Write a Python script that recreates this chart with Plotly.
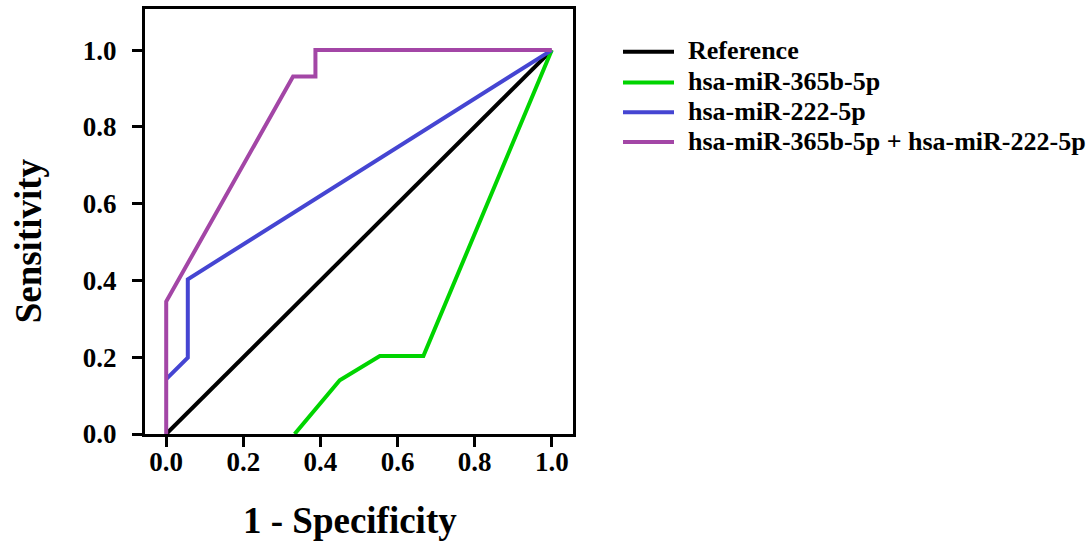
import plotly.graph_objects as go

ref_x = [0, 1]
ref_y = [0, 1]
g_x = [0.333, 0.450, 0.554, 0.667, 1.0]
g_y = [0.0, 0.140, 0.203, 0.203, 1.0]
b_x = [0.0, 0.056, 0.056, 1.0]
b_y = [0.143, 0.199, 0.403, 1.0]
p_x = [0.0, 0.0, 0.329, 0.387, 0.387, 1.0]
p_y = [0.0, 0.345, 0.931, 0.931, 1.0, 1.0]

names = ["Reference", "hsa-miR-365b-5p", "hsa-miR-222-5p", "hsa-miR-365b-5p + hsa-miR-222-5p"]
colors = ["#000000", "#00D400", "#4545D2", "#A346A6"]
tick_vals = [0, 0.2, 0.4, 0.6, 0.8, 1.0]
tick_text = ["0.0", "0.2", "0.4", "0.6", "0.8", "1.0"]

font = "Liberation Serif"
W, H = 1092, 547
L, R, T, B = 145, 519, 6, 113
pw, ph = W - L - R, H - T - B

def px_x(px):
    return (px - L) / pw

def px_y(py):
    return (H - B - py) / ph

fig = go.Figure()
for xs, ys, n, c in zip([ref_x, g_x, b_x, p_x], [ref_y, g_y, b_y, p_y], names, colors):
    fig.add_trace(go.Scatter(x=xs, y=ys, mode="lines", name=n, showlegend=False,
                             line=dict(color=c, width=4)))

# manual legend
shapes = []
annotations = []
row_y = [49, 80, 110, 140]
for n, c, ry in zip(names, colors, row_y):
    shapes.append(dict(type="line", xref="paper", yref="paper",
                       x0=px_x(623), x1=px_x(674), y0=px_y(ry), y1=px_y(ry),
                       line=dict(color=c, width=4)))
    annotations.append(dict(xref="paper", yref="paper", x=px_x(686), y=px_y(ry - 1),
                            xanchor="left", yanchor="middle", showarrow=False, text=n,
                            font=dict(family=font, size=26, color="black", weight="bold")))

annotations.append(dict(xref="paper", yref="paper", x=px_x(350), y=px_y(521),
                        xanchor="center", yanchor="middle", showarrow=False,
                        text="1 - Specificity",
                        font=dict(family=font, size=37, color="black", weight="bold")))
annotations.append(dict(xref="paper", yref="paper", x=px_x(28), y=px_y(240),
                        xanchor="center", yanchor="middle", showarrow=False, textangle=-90,
                        text="Sensitivity",
                        font=dict(family=font, size=37, color="black", weight="bold")))

axis_common = dict(tickvals=tick_vals, ticktext=tick_text,
                   ticks="outside", ticklen=10, tickwidth=3, tickcolor="black",
                   showline=True, linewidth=3, linecolor="black", mirror=True,
                   showgrid=False, zeroline=False,
                   tickfont=dict(family=font, size=27, weight="bold", color="black"))

fig.update_layout(
    width=W, height=H,
    margin=dict(l=L, r=R, t=T, b=B),
    plot_bgcolor="white", paper_bgcolor="white",
    font=dict(family=font, color="black"),
    showlegend=False,
    shapes=shapes, annotations=annotations,
    xaxis=dict(range=[-0.055, 1.055], ticklabelstandoff=-8, **axis_common),
    yaxis=dict(range=[0, 1.107], ticklabelstandoff=10, **axis_common),
)
fig.write_html("out.html")
